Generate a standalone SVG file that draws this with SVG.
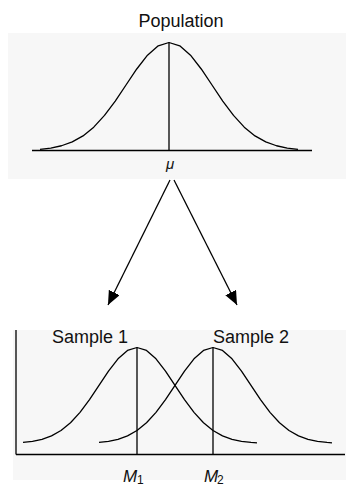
<svg xmlns="http://www.w3.org/2000/svg" width="346" height="487" viewBox="0 0 346 487">
<style>
.bg{fill:#f7f7f7}
.curve{fill:none;stroke:#000;stroke-width:1.3;stroke-linejoin:round}
.ln{stroke:#000;stroke-width:1.3;fill:none}
.lbl{font-family:"Liberation Sans",Arial,sans-serif;font-size:18px;fill:#111}
.it{font-family:"Liberation Sans",Arial,sans-serif;font-style:italic;fill:#111}
.sub{font-family:"Liberation Sans",Arial,sans-serif;font-size:12px;fill:#111}
</style>
<defs>
<marker id="arr" viewBox="0 0 14 12" refX="14" refY="6" markerWidth="14" markerHeight="12" markerUnits="userSpaceOnUse" orient="auto">
<path d="M0,0 L14,6 L0,12 z" fill="#000"/>
</marker>
</defs>
<rect width="346" height="487" fill="#fff"/>
<g id="population">
<rect class="bg" x="8" y="33" width="338" height="146"/>
<text class="lbl" x="181" y="27" text-anchor="middle">Population</text>
<line class="ln" x1="32" y1="150.5" x2="312" y2="150.5"/>
<path class="curve" d="M40,149.3 L50.75,148.04 L61.5,145.76 L72.25,141.9 L83,135.89 L93.75,127.14 L104.5,115.43 L115.25,101.06 L126,85 L136.75,68.98 L147.5,55.19 L158.25,45.83 L169,42.5 L179.75,45.83 L190.5,55.19 L201.25,68.98 L212,85 L222.75,101.06 L233.5,115.43 L244.25,127.14 L255,135.89 L265.75,141.9 L276.5,145.76 L287.25,148.04 L298,149.3"/>
<line class="ln" x1="169" y1="42.5" x2="169" y2="150.5"/>
<text class="it" x="170" y="169" font-size="15" text-anchor="middle">μ</text>
</g>
<g id="connectors">
<line class="ln" x1="170" y1="180" x2="108" y2="305" marker-end="url(#arr)"/>
<line class="ln" x1="174" y1="180" x2="237" y2="305" marker-end="url(#arr)"/>
</g>
<g id="samples">
<rect class="bg" x="13" y="330" width="333" height="150"/>
<line class="ln" x1="16" y1="330" x2="16" y2="454.5"/>
<line class="ln" x1="16" y1="454.5" x2="345" y2="454.5"/>
<g id="sample1">
<text class="lbl" x="52" y="343">Sample 1</text>
<path class="curve" d="M23,442.43 L32.5,441.31 L42,439.29 L51.5,435.86 L61,430.51 L70.5,422.74 L80,412.33 L89.5,399.55 L99,385.28 L108.5,371.04 L118,358.78 L127.5,350.46 L137,347.5 L146.5,350.46 L156,358.78 L165.5,371.04 L175,385.28 L184.5,399.55 L194,412.33 L203.5,422.74 L213,430.51 L222.5,435.86 L232,439.29 L241.5,441.31 L251,442.43 L257,442.9"/>
<line class="ln" x1="137" y1="347.5" x2="137" y2="454.5"/>
<text class="it" x="123" y="482" font-size="17">M</text>
<text class="sub" x="137" y="484">1</text>
</g>
<g id="sample2">
<text class="lbl" x="213" y="343">Sample 2</text>
<path class="curve" d="M99,442.43 L108.5,441.31 L118,439.29 L127.5,435.86 L137,430.51 L146.5,422.74 L156,412.33 L165.5,399.55 L175,385.28 L184.5,371.04 L194,358.78 L203.5,350.46 L213,347.5 L222.5,350.46 L232,358.78 L241.5,371.04 L251,385.28 L260.5,399.55 L270,412.33 L279.5,422.74 L289,430.51 L298.5,435.86 L308,439.29 L317.5,441.31 L327,442.43 L332,442.9"/>
<line class="ln" x1="213" y1="347.5" x2="213" y2="454.5"/>
<text class="it" x="204" y="482" font-size="17">M</text>
<text class="sub" x="217" y="484">2</text>
</g>
</g>
</svg>
